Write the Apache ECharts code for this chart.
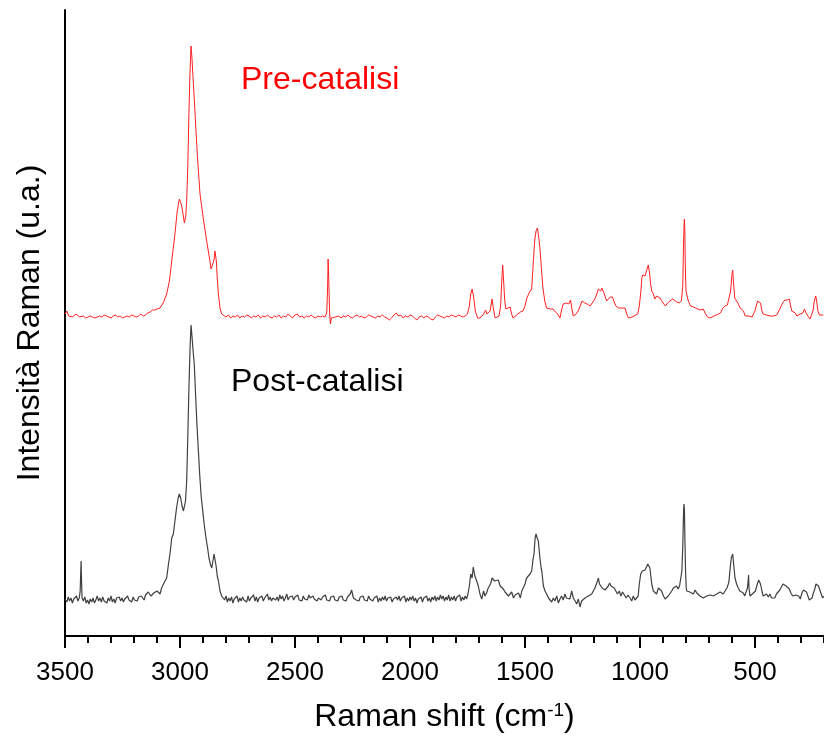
<!DOCTYPE html>
<html>
<head>
<meta charset="utf-8">
<script src="https://cdn.jsdelivr.net/npm/echarts@6/dist/echarts.min.js"></script>
<style>html,body{margin:0;padding:0;background:#fff}#c{width:824px;height:743px}</style>
</head>
<body>
<div id="c"></div>
<script>
// x tick labels (Raman shift, cm-1)
const xTicks = [3500, 3000, 2500, 2000, 1500, 1000, 500];
const seriesNames = ['Pre-catalisi', 'Post-catalisi'];

// Pre-catalisi spectrum: [Raman shift, intensity (a.u., offset)]
const preCatalisi = [
[3500,322],[3492,325],[3484,320],[3476,321],[3468,319],[3460,320],[3452,322],[3444,320],[3436,319],[3428,321],[3420,320],[3410,318],[3400,319],[3390,320],[3380,319],[3370,318],[3360,319],[3350,320],[3340,319],[3330,321],[3320,320],[3310,319],[3300,318],[3290,320],[3280,321],[3270,319],[3260,320],[3250,318],[3240,319],[3230,320],[3220,319],[3210,321],[3200,320],[3190,319],[3180,320],[3170,322],[3160,320],[3150,321],[3140,323],[3130,324],[3120,326],[3110,326],[3100,327],[3087,328],[3073,333],[3058,342],[3046,355],[3036,375],[3022,402],[3012,425],[3003,437],[2996,433],[2991,428],[2981,413],[2975,420],[2971,435],[2966,470],[2962,515],[2957,560],[2952,590],[2948,578],[2945,565],[2940,545],[2935,525],[2925,482],[2913,442],[2899,418],[2884,395],[2872,378],[2865,367],[2857,368],[2852,376],[2848,385],[2842,375],[2838,358],[2833,342],[2826,328],[2819,322],[2812,320],
[2800,319],[2790,321],[2780,318],[2770,320],[2760,319],[2750,321],[2740,318],[2730,320],[2720,319],[2710,321],[2700,320],[2690,318],[2680,320],[2670,319],[2660,321],[2650,318],[2640,320],[2630,319],[2620,321],[2610,319],[2600,318],[2590,320],[2580,319],[2570,321],[2560,318],[2550,320],[2540,319],[2530,322],[2520,320],[2510,318],[2500,321],[2490,322],[2480,319],[2470,320],[2460,318],[2450,320],[2440,319],[2430,321],[2420,319],[2410,318],[2400,320],[2390,319],[2380,320],[2370,319],[2362,323],[2358,350],[2356,377],[2353,355],[2350,325],[2346,312],[2342,318],[2335,320],[2325,319],
[2310,320],[2300,318],[2290,320],[2280,319],[2270,321],[2260,319],[2250,318],[2240,320],[2230,321],[2220,319],[2210,320],[2200,318],[2190,319],[2180,321],[2170,320],[2160,319],[2150,318],[2140,320],[2130,319],[2120,321],[2110,319],[2100,318],[2090,316],[2080,318],[2070,321],[2060,323],[2055,322],[2050,320],[2040,321],[2030,318],[2020,320],[2010,319],[2000,321],[1990,320],[1980,318],[1970,316],[1960,319],[1950,320],[1940,318],[1930,320],[1920,319],[1910,317],[1900,316],[1890,319],[1880,321],[1870,320],[1860,319],[1850,318],[1840,320],[1830,319],[1820,321],[1810,320],[1800,319],[1790,321],[1780,320],[1770,319],[1760,320],[1750,322],
[1742,330],[1736,342],[1730,347],[1724,340],[1716,325],[1706,318],[1696,318],[1688,320],[1680,322],[1671,326],[1666,322],[1661,321],[1652,325],[1643,337],[1638,328],[1630,318],[1622,320],[1613,320],[1606,330],[1600,360],[1597,371],[1593,355],[1588,335],[1583,327],[1575,326],[1565,329],[1558,322],[1552,318],[1544,320],[1536,321],[1528,320],[1520,324],[1509,325],[1500,330],[1492,338],[1487,340],[1480,344],[1471,347],[1465,370],[1458,395],[1452,405],[1446,408],[1440,398],[1435,388],[1428,365],[1422,348],[1414,335],[1406,328],[1398,326],[1390,327],[1378,327],[1368,324],[1358,322],[1348,318],[1342,325],[1334,332],[1326,331],[1319,333],[1310,332],[1302,336],[1296,327],[1290,320],[1286,318],[1278,322],[1269,325],[1260,330],[1252,335],[1247,337],[1240,333],[1230,332],[1217,330],[1208,333],[1200,335],[1196,337],[1188,342],[1181,347],[1176,345],[1171,345],[1166,348],[1162,350],[1155,342],[1145,335],[1138,336],[1130,339],[1120,339],[1112,334],[1105,330],[1094,328],[1085,328],[1075,328],[1065,328],[1058,322],[1050,318],[1046,318],[1035,319],[1026,320],[1018,318],[1010,322],[1003,330],[996,345],[992,358],[988,361],[983,360],[978,360],[972,365],[964,371],[958,362],[954,352],[949,345],[942,342],[935,337],[928,340],[920,338],[913,338],[905,335],[897,333],[890,330],[884,330],[876,334],[868,336],[858,337],[850,335],[840,334],[830,333],[820,335],[814,350],[811,390],[808,413],[807,417],[805,405],[803,370],[800,345],[797,345],[790,335],[780,330],[768,329],[758,328],[748,327],[738,326],[725,327],[715,322],[706,319],[696,318],[688,319],[678,320],[668,321],[660,320],[650,323],[640,328],[630,330],[620,331],[612,333],[606,345],[600,362],[597,366],[594,355],[588,338],[580,335],[572,332],[565,328],[558,330],[550,325],[543,320],[536,319],[528,320],[520,321],[512,319],[507,322],[500,325],[495,330],[488,335],[481,337],[476,333],[470,325],[464,322],[458,320],[450,321],[442,320],[435,320],[428,319],[420,320],[412,322],[405,321],[399,323],[390,328],[380,333],[370,336],[360,336],[351,337],[345,330],[340,325],[334,323],[325,323],[318,320],[310,321],[304,322],[298,320],[292,323],[285,327],[278,323],[270,320],[261,317],[255,318],[248,325],[242,335],[236,340],[232,335],[226,325],[220,321],[212,321],[203,321],[200,321]
];

// Post-catalisi spectrum: [Raman shift, intensity (a.u.)]
const postCatalisi = [
[3500,37],[3492,34],[3486,39],[3480,35],[3474,38],[3468,33],[3462,37],[3456,36],[3450,40],[3444,35],[3438,38],[3434,45],[3432,60],[3430,75],[3428,55],[3426,38],[3420,35],[3414,39],[3408,33],[3402,36],[3396,32],[3390,37],[3384,34],[3378,38],[3372,33],[3366,36],[3360,40],[3354,35],[3348,38],[3342,34],[3336,39],[3330,35],[3324,37],[3318,33],[3312,38],[3306,35],[3300,40],[3294,34],[3288,37],[3282,33],[3276,38],[3270,36],[3264,39],[3258,35],[3252,38],[3246,34],[3240,37],[3234,35],[3228,40],[3222,36],[3216,38],[3210,34],[3204,39],[3198,36],[3192,37],[3186,35],[3180,39],[3174,37],[3168,40],[3162,38],[3156,36],[3150,41],[3144,40],[3138,44],[3132,42],[3126,40],[3120,41],[3114,43],[3108,42],[3100,45],[3094,44],[3087,42],[3080,48],[3072,52],[3065,55],[3058,58],[3050,72],[3042,85],[3036,98],[3029,102],[3022,115],[3015,128],[3008,138],[3003,142],[2997,138],[2991,130],[2985,125],[2981,123],[2976,135],[2971,155],[2966,200],[2961,250],[2956,290],[2952,311],[2948,300],[2943,285],[2938,272],[2932,240],[2926,210],[2920,185],[2914,160],[2908,140],[2901,125],[2895,112],[2887,98],[2880,88],[2874,78],[2868,72],[2862,68],[2857,75],[2852,82],[2848,84],[2843,70],[2838,60],[2833,55],[2826,45],[2819,40],[2812,38],
[2806,36],[2800,40],[2794,34],[2788,38],[2782,35],[2776,39],[2770,33],[2764,37],[2758,36],[2752,40],[2746,34],[2740,38],[2734,35],[2728,39],[2722,36],[2716,37],[2710,34],[2704,40],[2698,35],[2692,38],[2686,36],[2680,41],[2674,35],[2668,39],[2662,34],[2656,38],[2650,36],[2644,40],[2638,35],[2632,38],[2626,37],[2620,42],[2614,36],[2608,39],[2602,35],[2596,38],[2590,40],[2584,36],[2578,39],[2572,35],[2566,41],[2560,37],[2554,40],[2548,35],[2542,38],[2536,42],[2530,36],[2524,39],[2518,37],[2512,40],[2506,36],[2500,39],[2494,37],[2488,41],[2482,36],[2476,38],[2470,35],[2464,40],[2458,37],[2452,39],[2446,36],[2440,41],[2434,38],[2428,36],[2422,40],[2416,37],[2410,39],[2404,35],[2398,38],[2392,40],[2386,36],[2380,39],[2374,37],[2368,41],[2362,36],[2356,38],[2350,35],[2344,39],[2338,37],[2332,40],[2326,36],[2320,38],[2314,35],[2308,39],[2302,37],[2296,40],[2290,36],[2284,38],[2278,35],[2272,39],[2266,40],[2260,42],[2254,46],[2250,44],[2246,38],[2240,40],[2234,36],[2228,38],[2222,35],[2216,39],[2210,37],[2204,40],[2198,36],[2192,38],[2186,35],[2180,40],[2174,37],[2168,39],[2162,35],[2156,38],[2150,36],[2144,40],[2138,34],[2132,38],[2126,35],[2120,39],[2114,36],[2108,40],[2102,35],[2096,38],[2090,36],[2084,39],[2078,34],[2072,37],[2066,35],[2060,39],[2054,36],[2048,40],[2042,35],[2036,38],[2030,36],[2024,40],[2018,34],[2012,38],[2006,35],[2000,39],[1994,36],[1988,40],[1982,35],[1976,38],[1970,33],[1964,37],[1958,35],[1952,39],[1946,34],[1940,38],[1934,36],[1928,40],[1922,35],[1916,38],[1910,34],[1904,39],[1898,36],[1892,40],[1886,35],[1880,39],[1874,36],[1868,41],[1862,37],[1856,40],[1850,35],[1844,39],[1838,36],[1832,41],[1826,35],[1820,39],[1814,36],[1808,40],[1802,35],[1796,39],[1790,37],[1784,41],[1778,35],[1772,39],[1766,36],[1760,40],[1754,37],[1748,42],
[1742,50],[1736,62],[1730,58],[1725,69],[1718,60],[1710,55],[1703,50],[1696,42],[1688,37],[1680,45],[1674,40],[1667,43],[1660,48],[1650,52],[1643,58],[1638,60],[1632,55],[1625,57],[1616,56],[1608,50],[1600,48],[1594,47],[1587,44],[1580,46],[1572,40],[1565,42],[1558,44],[1550,38],[1543,41],[1536,40],[1528,43],[1520,38],[1514,45],[1507,45],[1500,52],[1493,58],[1486,60],[1478,62],[1471,65],[1466,75],[1461,82],[1456,98],[1452,102],[1447,98],[1442,95],[1436,80],[1430,68],[1427,65],[1420,50],[1413,45],[1406,42],[1398,38],[1391,40],[1384,34],[1377,38],[1370,35],[1362,40],[1355,33],[1348,37],[1341,40],[1334,36],[1326,42],[1320,38],[1312,40],[1305,37],[1297,45],[1290,38],[1282,35],[1275,32],[1268,37],[1261,29],[1254,35],[1246,33],[1239,38],[1232,36],[1225,40],[1218,38],[1210,42],[1203,45],[1196,48],[1190,50],[1185,55],[1181,58],[1176,52],[1170,50],[1165,48],[1159,48],[1152,46],[1145,44],[1138,50],[1132,53],[1126,50],[1119,52],[1112,48],[1105,46],[1098,42],[1090,45],[1083,40],[1076,44],[1068,42],[1060,38],[1052,41],[1043,38],[1036,35],[1029,40],[1022,36],[1014,35],[1008,40],[1003,52],[997,62],[990,65],[984,64],[978,66],[972,68],[966,72],[962,74],[957,68],[953,60],[949,52],[942,45],[935,43],[928,42],[920,48],[913,50],[906,45],[898,40],[891,37],[884,35],[877,40],[870,42],[862,45],[855,48],[848,46],[841,50],[834,47],[828,50],[823,52],[818,65],[814,90],[811,120],[809,132],[807,128],[805,100],[802,65],[799,48],[797,45],[790,47],[783,44],[775,45],[768,42],[760,46],[753,43],[746,45],[739,40],[732,42],[725,38],[717,37],[710,40],[703,38],[695,41],[688,39],[681,40],[673,38],[666,42],[659,40],[652,44],[645,42],[638,42],[630,45],[622,48],[616,52],[613,55],[608,68],[603,78],[597,82],[592,70],[587,58],[580,52],[573,48],[566,45],[558,47],[551,43],[545,40],[538,42],[533,48],[530,55],[528,61],[526,48],[522,40],[519,38],[512,42],[505,40],[498,45],[490,52],[484,56],[481,57],[476,52],[470,45],[464,40],[457,38],[450,42],[442,39],[435,42],[428,38],[421,40],[414,38],[407,42],[400,44],[392,46],[385,48],[378,52],[372,53],[365,50],[358,52],[351,47],[344,43],[336,40],[330,38],[323,41],[316,43],[310,40],[303,37],[296,43],[289,46],[282,48],[276,44],[270,40],[264,36],[258,34],[252,38],[246,43],[240,47],[235,52],[230,50],[224,50],[218,48],[212,42],[206,38],[200,40]
];

const FONT = "'Liberation Sans', Arial, sans-serif";
const chart = echarts.init(document.getElementById('c'), null, {renderer: 'canvas'});
const option = {
  animation: false,
  backgroundColor: '#ffffff',
  grid: {left: 65, right: 0, top: 10, bottom: 107, containLabel: false},
  xAxis: [
    {
      type: 'value', min: 200, max: 3500, inverse: true, interval: 100,
      name: 'Raman shift (cm{sup|-1})',
      nameLocation: 'middle', nameGap: 65,
      nameTextStyle: {
        fontFamily: FONT, fontSize: 32, color: '#000',
        rich: {sup: {fontFamily: FONT, fontSize: 19, color: '#000', verticalAlign: 'top', padding: [0, 0, 14, 0]}}
      },
      axisLine: {show: true, onZero: false, lineStyle: {color: '#000', width: 2}},
      axisTick: {show: true, customValues: xTicks, length: 12, lineStyle: {color: '#000', width: 2}},
      axisLabel: {show: true, customValues: xTicks, formatter: function (v) { return String(v); }, fontFamily: FONT, fontSize: 26, color: '#000', margin: 24},
      splitLine: {show: false}
    },
    {
      type: 'value', min: 200, max: 3500, inverse: true, interval: 100, position: 'bottom',
      axisLine: {show: false},
      axisTick: {show: true, length: 7, lineStyle: {color: '#000', width: 2}},
      axisLabel: {show: false},
      splitLine: {show: false}
    }
  ],
  yAxis: {
    type: 'value', min: 0, max: 626,
    name: 'Intensità Raman (u.a.)',
    nameLocation: 'middle', nameGap: 19,
    nameTextStyle: {fontFamily: FONT, fontSize: 32, color: '#000'},
    axisLine: {show: true, onZero: false, lineStyle: {color: '#000', width: 2}},
    axisTick: {show: false},
    axisLabel: {show: false},
    splitLine: {show: false}
  },
  series: [
    {name: seriesNames[0], type: 'line', xAxisIndex: 0, data: preCatalisi, symbol: 'none', lineStyle: {color: '#ff2020', width: 1}, z: 3},
    {name: seriesNames[1], type: 'line', xAxisIndex: 0, data: postCatalisi, symbol: 'none', lineStyle: {color: '#404040', width: 1.2}, z: 2}
  ],
  graphic: [
    {type: 'text', left: 241, top: 64, style: {text: seriesNames[0], fontFamily: FONT, fontSize: 32, fill: '#ff0000'}},
    {type: 'text', left: 231, top: 366, style: {text: seriesNames[1], fontFamily: FONT, fontSize: 32, fill: '#000'}}
  ]
};
chart.setOption(option);
</script>
</body>
</html>
